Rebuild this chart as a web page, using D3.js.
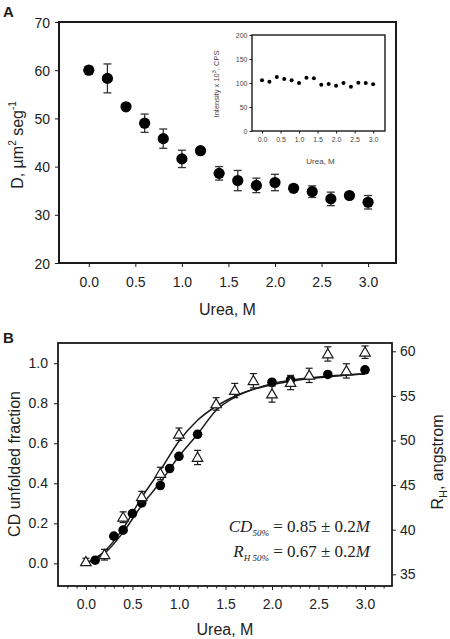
<!DOCTYPE html>
<html><head><meta charset="utf-8">
<script src="https://cdn.jsdelivr.net/npm/d3@7/dist/d3.min.js"></script>
<style>
body{margin:0;background:#fff;}
svg{display:block;font-family:"Liberation Sans",Arial,sans-serif;}
</style></head>
<body><svg id="c" width="450" height="639"></svg>
<script>
// ---------- Panel A data ----------
const ureaA = [0.0,0.2,0.4,0.6,0.8,1.0,1.2,1.4,1.6,1.8,2.0,2.2,2.4,2.6,2.8,3.0];
const diffD = [60.0,58.3,52.4,49.0,45.8,41.6,43.3,38.6,37.1,36.1,36.7,35.5,34.8,33.3,34.0,32.6];
const diffErr = [0.8,3.0,0.6,1.9,2.0,1.8,0.6,1.4,2.1,1.5,1.7,0.5,1.2,1.4,0.5,1.4];
const intensity = [105.5,102.8,112.4,108.3,105.5,100.0,111.0,109.7,96.6,98.0,94.5,100.0,92.4,100.7,100.0,97.2];
const ticksAX = [0.0,0.5,1.0,1.5,2.0,2.5,3.0];
const ticksAY = [20,30,40,50,60,70];
const ticksInsetY = [0,50,100,150,200];

// ---------- Panel B data ----------
const ureaCD = [0.1,0.3,0.4,0.5,0.6,0.8,0.9,1.0,1.2,2.0,2.2,2.6,3.0];
const cdFrac = [0.016,0.136,0.166,0.249,0.302,0.389,0.474,0.535,0.645,0.905,0.917,0.944,0.967];
const ureaRH = [0.0,0.2,0.4,0.6,0.8,1.0,1.2,1.4,1.6,1.8,2.0,2.2,2.4,2.6,2.8,3.0];
const rhVal = [36.4,37.2,41.4,43.7,46.3,50.7,48.1,54.1,55.6,56.7,55.2,56.5,57.3,59.7,57.8,59.9];
const rhErr = [0.4,0.6,0.6,0.6,0.7,0.7,0.8,0.7,0.8,0.8,0.9,0.8,0.8,0.8,0.8,0.7];
const fitX = [0.0,0.2,0.4,0.6,0.8,1.0,1.2,1.4,1.6,1.8,2.0,2.2,2.4,2.6,2.8,3.0];
const fitRH = [0.0,0.06,0.175,0.33,0.465,0.61,0.715,0.785,0.835,0.87,0.893,0.91,0.922,0.932,0.94,0.946];
const fitCD = [0.0,0.05,0.155,0.29,0.405,0.535,0.645,0.765,0.83,0.87,0.898,0.915,0.926,0.935,0.942,0.948];
const ticksBX = [0.0,0.5,1.0,1.5,2.0,2.5,3.0];
const ticksBL = [0.0,0.2,0.4,0.6,0.8,1.0];
const ticksBR = [35,40,45,50,55,60];

const svg = d3.select("#c");
const ink = "#1a1a1a";
const fmt1 = d3.format(".1f");

function frame(g, x0, x1, y0, y1, w){
  g.append("rect").attr("x",x0).attr("y",y0).attr("width",x1-x0).attr("height",y1-y0)
   .attr("fill","none").attr("stroke",ink).attr("stroke-width",w);
}
function styleAxis(sel, fs, col){
  sel.select(".domain").remove();
  sel.selectAll(".tick line").attr("stroke",ink);
  sel.selectAll(".tick text").attr("fill",col||"#222").style("font-size",fs+"px").attr("font-family","Liberation Sans, Arial, sans-serif");
}

// ================= Panel A =================
{
  const L=59,R=396,T=22,B=263;
  const x = d3.scaleLinear().domain([-0.32,3.30]).range([L,R]);
  const y = d3.scaleLinear().domain([20,70]).range([B,T]);
  const g = svg.append("g");
  g.append("text").attr("x",3).attr("y",17).text("A").style("font-size","15px").style("font-weight","bold").attr("fill",ink);

  const ax = g.append("g").attr("transform",`translate(0,${B})`)
    .call(d3.axisBottom(x).tickValues(ticksAX).tickFormat(fmt1).tickSize(4).tickPadding(10));
  styleAxis(ax,14);
  const ay = g.append("g").attr("transform",`translate(${L},0)`)
    .call(d3.axisLeft(y).tickValues(ticksAY).tickFormat(d3.format("d")).tickSize(4).tickPadding(5));
  styleAxis(ay,14);
  ay.selectAll(".tick text").attr("dy","0.36em");
  frame(g,L,R,T,B,2);

  g.append("text").attr("x",(L+R)/2).attr("y",315).attr("text-anchor","middle")
    .style("font-size","16px").attr("fill","#222").text("Urea, M");
  const yl = g.append("text").attr("transform","translate(23,145) rotate(-90)").attr("text-anchor","middle")
    .style("font-size","16px").attr("fill","#222");
  yl.append("tspan").text("D, µm");
  yl.append("tspan").attr("dy",-7).style("font-size","10px").text("2");
  yl.append("tspan").attr("dy",7).text(" seg");
  yl.append("tspan").attr("dy",-7).style("font-size","10px").text("-1");

  // error bars
  const eb = g.append("g").attr("stroke","#333").attr("stroke-width",1.3);
  ureaA.forEach((u,i)=>{
    const cx=x(u), yt=y(diffD[i]+diffErr[i]), yb=y(diffD[i]-diffErr[i]);
    eb.append("line").attr("x1",cx).attr("x2",cx).attr("y1",yt).attr("y2",yb);
    eb.append("line").attr("x1",cx-4).attr("x2",cx+4).attr("y1",yt).attr("y2",yt);
    eb.append("line").attr("x1",cx-4).attr("x2",cx+4).attr("y1",yb).attr("y2",yb);
  });
  g.append("g").selectAll("circle").data(ureaA).join("circle")
    .attr("cx",d=>x(d)).attr("cy",(d,i)=>y(diffD[i])).attr("r",5.6).attr("fill","#000");

  // ---- inset ----
  const iL=252,iR=385,iT=35,iB=131;
  const xi = d3.scaleLinear().domain([-0.27,3.32]).range([iL,iR]);
  const yi = d3.scaleLinear().domain([0,200]).range([iB,iT]);
  const gi = svg.append("g");
  gi.append("rect").attr("x",iL).attr("y",iT).attr("width",iR-iL).attr("height",iB-iT).attr("fill","#fff");
  const ix = gi.append("g").attr("transform",`translate(0,${iB})`)
    .call(d3.axisBottom(xi).tickValues(ticksAX).tickFormat(fmt1).tickSize(2.5).tickPadding(4));
  styleAxis(ix,7,"#444");
  const iy = gi.append("g").attr("transform",`translate(${iL},0)`)
    .call(d3.axisLeft(yi).tickValues(ticksInsetY).tickFormat(d3.format("d")).tickSize(2.5).tickPadding(2));
  styleAxis(iy,7,"#444");
  frame(gi,iL,iR,iT,iB,1.4);
  gi.append("text").attr("x",(iL+iR)/2+2).attr("y",164).attr("text-anchor","middle")
    .style("font-size","8px").attr("fill","#444").text("Urea, M");
  const il = gi.append("text").attr("transform","translate(219,84) rotate(-90)").attr("text-anchor","middle")
    .style("font-size","7.5px").attr("fill","#444");
  il.append("tspan").text("Intensity x 10");
  il.append("tspan").attr("dy",-3).style("font-size","5.5px").text("3");
  il.append("tspan").attr("dy",3).text(", CPS");
  gi.append("g").selectAll("circle").data(ureaA).join("circle")
    .attr("cx",d=>xi(d)).attr("cy",(d,i)=>yi(intensity[i])).attr("r",2).attr("fill","#000");
}

// ================= Panel B =================
{
  const L=58,R=392,T=343,B=586;
  const x = d3.scaleLinear().domain([-0.30,3.29]).range([L,R]);
  const yl = d3.scaleLinear().domain([-0.113,1.101]).range([B,T]);
  const yr = d3.scaleLinear().domain([33.69,60.93]).range([B,T]);
  const g = svg.append("g");
  g.append("text").attr("x",3).attr("y",343).text("B").style("font-size","15px").style("font-weight","bold").attr("fill",ink);

  const minor = d3.range(-2,33).map(d=>d/10).filter(v=>Math.abs(v*2-Math.round(v*2))>1e-6);
  g.append("g").attr("transform",`translate(0,${B})`)
    .call(d3.axisBottom(x).tickValues(minor).tickFormat("").tickSize(2.5))
    .call(s=>{s.select(".domain").remove(); s.selectAll(".tick line").attr("stroke",ink);});
  const ax = g.append("g").attr("transform",`translate(0,${B})`)
    .call(d3.axisBottom(x).tickValues(ticksBX).tickFormat(fmt1).tickSize(4).tickPadding(9));
  styleAxis(ax,14);
  const ayl = g.append("g").attr("transform",`translate(${L},0)`)
    .call(d3.axisLeft(yl).tickValues(ticksBL).tickFormat(fmt1).tickSize(4).tickPadding(6));
  styleAxis(ayl,14);
  const ayr = g.append("g").attr("transform",`translate(${R},0)`)
    .call(d3.axisRight(yr).tickValues(ticksBR).tickFormat(d3.format("d")).tickSize(4).tickPadding(4));
  styleAxis(ayr,14);
  frame(g,L,R,T,B,1.8);

  g.append("text").attr("x",(L+R)/2).attr("y",635).attr("text-anchor","middle")
    .style("font-size","16px").attr("fill","#222").text("Urea, M");
  g.append("text").attr("transform","translate(20,464) rotate(-90)").attr("text-anchor","middle")
    .style("font-size","16px").attr("fill","#222").text("CD unfolded fraction");
  const rl = g.append("text").attr("transform","translate(443,462) rotate(-90)").attr("text-anchor","middle")
    .style("font-size","16px").attr("fill","#222");
  rl.append("tspan").text("R");
  rl.append("tspan").attr("dy",4).style("font-size","11px").text("H");
  rl.append("tspan").attr("dy",-4).text(", angstrom");

  // fit curves
  const line = d3.line().x(d=>x(d[0])).y(d=>yl(d[1])).curve(d3.curveMonotoneX);
  g.append("path").attr("d",line(fitX.map((v,i)=>[v,fitRH[i]]))).attr("fill","none").attr("stroke",ink).attr("stroke-width",1.5);
  g.append("path").attr("d",line(fitX.map((v,i)=>[v,fitCD[i]]))).attr("fill","none").attr("stroke",ink).attr("stroke-width",1.5);

  // circles (CD)
  g.append("g").selectAll("circle").data(ureaCD).join("circle")
    .attr("cx",d=>x(d)).attr("cy",(d,i)=>yl(cdFrac[i])).attr("r",4.8).attr("fill","#000");

  // triangles (RH) with error bars
  const eb = g.append("g").attr("stroke",ink).attr("stroke-width",1.2);
  ureaRH.forEach((u,i)=>{
    const cx=x(u), yt=yr(rhVal[i]+rhErr[i]), yb=yr(rhVal[i]-rhErr[i]);
    eb.append("line").attr("x1",cx).attr("x2",cx).attr("y1",yt).attr("y2",yb);
    eb.append("line").attr("x1",cx-3.5).attr("x2",cx+3.5).attr("y1",yt).attr("y2",yt);
    eb.append("line").attr("x1",cx-3.5).attr("x2",cx+3.5).attr("y1",yb).attr("y2",yb);
  });
  const tri = d3.symbol().type(d3.symbolTriangle).size(48);
  g.append("g").selectAll("path").data(ureaRH).join("path")
    .attr("transform",(d,i)=>`translate(${x(d)},${yr(rhVal[i])+0.8})`)
    .attr("d",tri()).attr("fill","#fff").attr("stroke",ink).attr("stroke-width",1.2);

  // annotations
  const ff = "Liberation Serif, Times New Roman, serif";
  const t1 = g.append("text").attr("x",370).attr("y",532).attr("text-anchor","end")
    .style("font-size","17px").attr("font-family",ff).attr("fill","#222");
  t1.append("tspan").style("font-style","italic").text("CD");
  t1.append("tspan").attr("dy",4).style("font-size","9px").style("font-style","italic").text("50%");
  t1.append("tspan").attr("dy",-4).text(" = 0.85 \u00b1 0.2");
  t1.append("tspan").style("font-style","italic").text("M");
  const t2 = g.append("text").attr("x",370).attr("y",557).attr("text-anchor","end")
    .style("font-size","17px").attr("font-family",ff).attr("fill","#222");
  t2.append("tspan").style("font-style","italic").text("R");
  t2.append("tspan").attr("dy",4).style("font-size","9px").style("font-style","italic").text("H 50%");
  t2.append("tspan").attr("dy",-4).text(" = 0.67 \u00b1 0.2");
  t2.append("tspan").style("font-style","italic").text("M");
}
</script></body></html>
